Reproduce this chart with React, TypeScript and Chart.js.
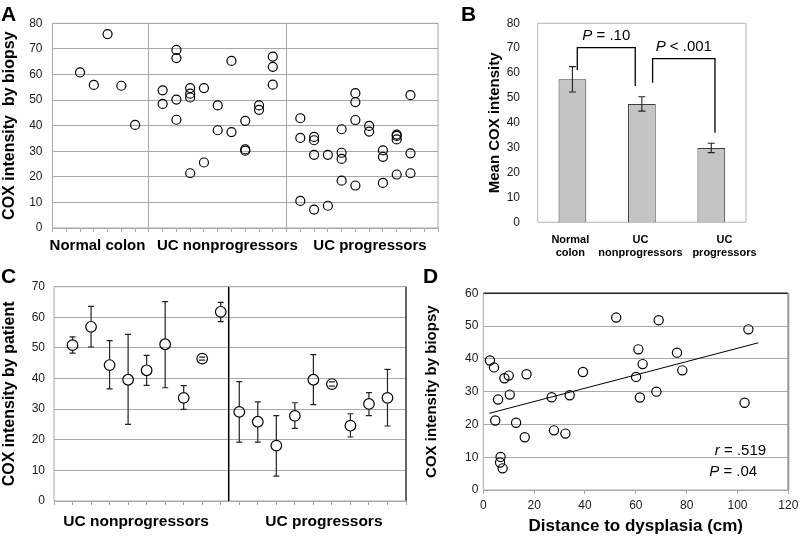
import React, { useEffect, useRef } from 'react';
import { Chart, registerables } from 'chart.js';

Chart.register(...registerables);

const FONT = "'Liberation Sans', Arial, sans-serif";
Chart.defaults.font.family = FONT;

// ---------- Panel A : COX intensity by biopsy ----------
const groupNamesA = ['Normal colon', 'UC nonprogressors', 'UC progressors'];
const groupCentersA = [3.27, 12.7, 23.06];
const groupDividersA = [7, 17];
const normalX = [2, 3, 4, 5, 6];
const normalY = [60.8, 55.9, 75.8, 55.6, 40.3];
const nonprogX = [8, 8, 9, 9, 9, 9, 10, 10, 10, 10, 11, 11, 12, 12, 13, 13, 14, 14, 14, 15, 15, 16, 16, 16];
const nonprogY = [53.8, 48.5, 69.6, 66.4, 50.2, 42.3, 54.7, 52.5, 51.0, 21.4, 54.7, 25.6, 47.9, 38.2, 65.3, 37.5, 41.9, 30.7, 30.2, 47.9, 46.2, 67.0, 63.0, 56.0];
const progX = [18, 18, 18, 19, 19, 19, 19, 20, 20, 21, 21, 21, 21, 22, 22, 22, 22, 23, 23, 24, 24, 24, 25, 25, 25, 25, 26, 26, 26];
const progY = [42.9, 35.2, 10.6, 35.6, 34.3, 28.6, 7.2, 28.6, 8.7, 38.6, 29.4, 27.0, 18.5, 52.7, 49.2, 42.2, 16.6, 39.9, 37.7, 30.3, 27.8, 17.6, 36.5, 36.0, 34.6, 20.9, 51.9, 29.2, 21.4];

// ---------- Panel B : Mean COX intensity ----------
const meanLabels = [['Normal', 'colon'], ['UC', 'nonprogressors'], ['UC', 'progressors']];
const meanLabelCenters = [-0.03, 0.98, 2.19];
const meanValues = [57.5, 47.6, 29.9];
const meanErrors = [5.1, 2.9, 1.9];
const bracketStartX = [0.07, 1.155];
const bracketEndX = [0.905, 2.053];
const bracketTopY = [70.2, 65.8];
const bracketStartY = [61.2, 56.1];
const bracketEndY = [54.8, 36.0];
const bracketItalic = ['P', 'P'];
const bracketRest = [' = .10', ' < .001'];

// ---------- Panel C : COX intensity by patient ----------
const groupNamesC = ['UC nonprogressors', 'UC progressors'];
const groupCentersC = [4.43, 14.57];
const groupDividerC = 9.43;
const patientX = [1, 2, 3, 4, 5, 6, 7, 8, 9, 10, 11, 12, 13, 14, 15, 16, 17, 18];
const patientMean = [50.9, 56.9, 44.4, 39.6, 42.7, 51.2, 33.7, 46.5, 61.8, 29.1, 25.9, 18.1, 27.8, 39.6, 38.2, 24.6, 31.7, 33.7];
const patientHigh = [53.6, 63.6, 52.4, 54.4, 47.6, 65.1, 37.7, 47.0, 64.9, 39.0, 32.4, 27.9, 32.1, 47.8, 38.9, 28.5, 35.4, 43.0];
const patientLow = [48.3, 50.3, 36.6, 25.0, 37.8, 37.0, 29.9, 46.0, 58.6, 19.2, 19.2, 8.1, 23.7, 31.5, 37.5, 20.9, 27.9, 24.5];

// ---------- Panel D : distance to dysplasia ----------
const distX = [2.6, 4.2, 4.7, 5.8, 6.8, 6.6, 7.6, 8.3, 10.0, 10.4, 12.9, 16.3, 17.0, 26.9, 27.8, 34.0, 32.3, 39.2, 52.3, 60.1, 61.0, 61.6, 62.7, 68.1, 69.0, 76.2, 78.3, 102.8, 104.3];
const distY = [39.5, 37.4, 21.2, 27.6, 10.1, 8.4, 6.6, 34.1, 34.9, 29.1, 20.5, 16.1, 35.3, 28.3, 18.2, 28.9, 17.2, 36.0, 52.6, 34.5, 42.9, 28.2, 38.4, 30.0, 51.8, 41.9, 36.5, 26.6, 49.0];
const trendX = [2.4, 108.2];
const trendY = [23.4, 44.9];
const statLines = [['r', ' = .519'], ['P', ' = .04']];
const statX = [91.1, 88.9];
const statY = [11.9, 5.6];

const GRID = '#a8a8a8';
const TICK_COLOR = '#1a1a1a';

const pts = (xs: number[], ys: number[]) => xs.map((x, i) => ({ x, y: ys[i] }));

const hollow = (r: number) => ({
  pointRadius: r,
  pointHoverRadius: r,
  pointBorderWidth: 1.2,
  borderColor: '#000',
  backgroundColor: 'rgba(0,0,0,0)',
  pointBorderColor: '#000',
  pointBackgroundColor: 'rgba(0,0,0,0)',
  showLine: false,
});

type Side = { color: string; width: number } | undefined;
const framePlugin = (sides: { top?: Side; right?: Side; bottom?: Side; left?: Side }) => ({
  id: 'frame',
  beforeDatasetsDraw(chart: any) {
    const { ctx, chartArea: a } = chart;
    ctx.save();
    const seg = (s: Side, x1: number, y1: number, x2: number, y2: number) => {
      if (!s) return;
      ctx.strokeStyle = s.color;
      ctx.lineWidth = s.width;
      ctx.beginPath();
      ctx.moveTo(x1, y1);
      ctx.lineTo(x2, y2);
      ctx.stroke();
    };
    seg(sides.top, a.left, a.top, a.right, a.top);
    seg(sides.right, a.right, a.top, a.right, a.bottom);
    seg(sides.bottom, a.left, a.bottom, a.right, a.bottom);
    seg(sides.left, a.left, a.top, a.left, a.bottom);
    ctx.restore();
  },
});

const groupLabelPlugin = (names: string[], centers: number[], offset: number, size: number) => ({
  id: 'groupLabels',
  afterDraw(chart: any) {
    const { ctx, chartArea, scales } = chart;
    ctx.save();
    ctx.font = `bold ${size}px ${FONT}`;
    ctx.fillStyle = '#000';
    ctx.textAlign = 'center';
    ctx.textBaseline = 'middle';
    names.forEach((n, i) => {
      ctx.fillText(n, scales.x.getPixelForValue(centers[i]), chartArea.bottom + offset);
    });
    ctx.restore();
  },
});

const drawMixed = (ctx: any, italic: string, rest: string, x: number, y: number, size: number, align: 'left' | 'center') => {
  ctx.font = `italic ${size}px ${FONT}`;
  const w1 = ctx.measureText(italic).width;
  ctx.font = `${size}px ${FONT}`;
  const w2 = ctx.measureText(rest).width;
  const start = align === 'center' ? x - (w1 + w2) / 2 : x;
  ctx.textAlign = 'left';
  ctx.textBaseline = 'middle';
  ctx.font = `italic ${size}px ${FONT}`;
  ctx.fillText(italic, start, y);
  ctx.font = `${size}px ${FONT}`;
  ctx.fillText(rest, start + w1, y);
};

const makeChartA = (canvas: HTMLCanvasElement) =>
  new Chart(canvas, {
    type: 'scatter',
    data: {
      datasets: [
        { data: pts(normalX, normalY), ...hollow(4.5) },
        { data: pts(nonprogX, nonprogY), ...hollow(4.5) },
        { data: pts(progX, progY), ...hollow(4.5) },
      ],
    },
    options: {
      animation: false,
      responsive: false,
      events: [],
      layout: { padding: { left: 0, top: 23.3, right: 362, bottom: 269 } },
      plugins: { legend: { display: false }, tooltip: { enabled: false } },
      scales: {
        x: {
          type: 'linear',
          min: 0,
          max: 28,
          ticks: { stepSize: 1, display: false, autoSkip: false },
          grid: {
            drawOnChartArea: true,
            drawTicks: true,
            tickLength: 4,
            tickColor: GRID,
            color: (c: any) => (groupDividersA.includes(c.tick?.value) ? GRID : 'rgba(0,0,0,0)'),
          },
          border: { display: false },
          afterFit: (s: any) => {
            s.height = 40;
            s.paddingLeft = 0;
            s.paddingRight = 0;
          },
        },
        y: {
          min: 0,
          max: 80,
          ticks: { stepSize: 10, padding: 10, color: TICK_COLOR, font: { size: 12 } },
          grid: { color: GRID, drawTicks: false },
          border: { display: false },
          title: {
            display: true,
            text: 'COX intensity  by biopsy',
            font: { size: 16, weight: 'bold' },
            color: '#000',
            padding: 0,
          },
          afterFit: (s: any) => {
            s.width = 52.5;
          },
        },
      },
    },
    plugins: [
      framePlugin({
        top: { color: GRID, width: 1 },
        right: { color: GRID, width: 1 },
        bottom: { color: GRID, width: 1 },
        left: { color: GRID, width: 1 },
      }),
      groupLabelPlugin(groupNamesA, groupCentersA, 18, 15),
    ],
  } as any);

const makeChartB = (canvas: HTMLCanvasElement) =>
  new Chart(canvas, {
    type: 'bar',
    data: {
      labels: meanLabels,
      datasets: [
        {
          data: meanValues,
          backgroundColor: '#c4c4c4',
          borderColor: '#3c3c3c',
          borderWidth: 1,
          barPercentage: 0.4,
          categoryPercentage: 1,
        },
      ],
    },
    options: {
      animation: false,
      responsive: false,
      events: [],
      layout: { padding: { left: 486, top: 23.3, right: 54, bottom: 269.7 } },
      plugins: { legend: { display: false }, tooltip: { enabled: false } },
      scales: {
        x: {
          ticks: { display: false },
          grid: { display: false },
          border: { display: false },
          afterFit: (s: any) => {
            s.height = 45;
            s.paddingLeft = 0;
            s.paddingRight = 0;
          },
        },
        y: {
          min: 0,
          max: 80,
          ticks: { stepSize: 10, padding: 9.7, color: TICK_COLOR, font: { size: 12 } },
          grid: { display: false },
          border: { display: false },
          title: {
            display: true,
            text: 'Mean COX intensity',
            font: { size: 15, weight: 'bold' },
            color: '#000',
            padding: 0,
          },
          afterFit: (s: any) => {
            s.width = 51.7;
          },
        },
      },
    },
    plugins: [
      framePlugin({
        top: { color: '#b4b4b4', width: 1 },
        right: { color: '#b4b4b4', width: 1 },
        bottom: { color: '#b4b4b4', width: 1 },
        left: { color: '#b4b4b4', width: 1 },
      }),
      {
        id: 'catLabels',
        afterDraw(chart: any) {
          const { ctx, scales, chartArea } = chart;
          ctx.save();
          ctx.font = `bold 11px ${FONT}`;
          ctx.fillStyle = '#000';
          ctx.textAlign = 'center';
          ctx.textBaseline = 'middle';
          meanLabels.forEach((lines, i) => {
            const px = scales.x.getPixelForValue(meanLabelCenters[i]);
            lines.forEach((t, j) => ctx.fillText(t, px, chartArea.bottom + 17.7 + j * 13.2));
          });
          ctx.restore();
        },
      },
      {
        id: 'barErrors',
        afterDatasetsDraw(chart: any) {
          const { ctx, scales } = chart;
          ctx.save();
          ctx.strokeStyle = '#222';
          ctx.lineWidth = 1.1;
          meanValues.forEach((v, i) => {
            const px = scales.x.getPixelForValue(i);
            const t = scales.y.getPixelForValue(v + meanErrors[i]);
            const b = scales.y.getPixelForValue(v - meanErrors[i]);
            ctx.beginPath();
            ctx.moveTo(px, t);
            ctx.lineTo(px, b);
            ctx.moveTo(px - 3.5, t);
            ctx.lineTo(px + 3.5, t);
            ctx.moveTo(px - 3.5, b);
            ctx.lineTo(px + 3.5, b);
            ctx.stroke();
          });
          // significance brackets
          ctx.strokeStyle = '#000';
          ctx.lineWidth = 1.3;
          ctx.fillStyle = '#000';
          bracketStartX.forEach((sx, i) => {
            const x1 = scales.x.getPixelForValue(sx);
            const x2 = scales.x.getPixelForValue(bracketEndX[i]);
            const yt = scales.y.getPixelForValue(bracketTopY[i]);
            ctx.beginPath();
            ctx.moveTo(x1, scales.y.getPixelForValue(bracketStartY[i]));
            ctx.lineTo(x1, yt);
            ctx.lineTo(x2, yt);
            ctx.lineTo(x2, scales.y.getPixelForValue(bracketEndY[i]));
            ctx.stroke();
            drawMixed(ctx, bracketItalic[i], bracketRest[i], (x1 + x2) / 2, yt - 12, 15, 'center');
          });
          ctx.restore();
        },
      },
    ],
  } as any);

const makeChartC = (canvas: HTMLCanvasElement) =>
  new Chart(canvas, {
    type: 'scatter',
    data: {
      datasets: [
        { data: pts(patientX, patientMean), ...hollow(5.3) },
        {
          data: [
            { x: groupDividerC, y: 0 },
            { x: groupDividerC, y: 70 },
          ],
          showLine: true,
          borderColor: '#000',
          borderWidth: 1.5,
          pointRadius: 0,
          pointHoverRadius: 0,
        },
      ],
    },
    options: {
      animation: false,
      responsive: false,
      events: [],
      layout: { padding: { left: 0, top: 286.7, right: 394, bottom: 6 } },
      plugins: { legend: { display: false }, tooltip: { enabled: false } },
      scales: {
        x: {
          type: 'linear',
          min: 0,
          max: 19,
          ticks: { stepSize: 1, display: false, autoSkip: false },
          grid: { drawOnChartArea: false, drawTicks: true, tickLength: 4, tickColor: GRID },
          border: { display: false },
          afterFit: (s: any) => {
            s.height = 30;
            s.paddingLeft = 0;
            s.paddingRight = 0;
          },
        },
        y: {
          min: 0,
          max: 70,
          ticks: { stepSize: 10, padding: 9, color: TICK_COLOR, font: { size: 12 } },
          grid: { color: GRID, drawTicks: false },
          border: { display: false },
          title: {
            display: true,
            text: 'COX intensity by patient',
            font: { size: 16, weight: 'bold' },
            color: '#000',
            padding: 0,
          },
          afterFit: (s: any) => {
            s.width = 54;
          },
        },
      },
    },
    plugins: [
      framePlugin({
        top: { color: GRID, width: 1 },
        right: { color: '#333', width: 1.5 },
        bottom: { color: GRID, width: 1 },
        left: { color: GRID, width: 1 },
      }),
      {
        id: 'patientErrors',
        afterDatasetsDraw(chart: any) {
          const { ctx, scales } = chart;
          const r = 5.3;
          ctx.save();
          ctx.strokeStyle = '#222';
          ctx.lineWidth = 1.2;
          patientX.forEach((v, i) => {
            const px = scales.x.getPixelForValue(v);
            const c = scales.y.getPixelForValue(patientMean[i]);
            const t = scales.y.getPixelForValue(patientHigh[i]);
            const b = scales.y.getPixelForValue(patientLow[i]);
            ctx.beginPath();
            if (t < c - r) {
              ctx.moveTo(px, t);
              ctx.lineTo(px, c - r);
            }
            if (b > c + r) {
              ctx.moveTo(px, c + r);
              ctx.lineTo(px, b);
            }
            ctx.moveTo(px - 3, t);
            ctx.lineTo(px + 3, t);
            ctx.moveTo(px - 3, b);
            ctx.lineTo(px + 3, b);
            ctx.stroke();
          });
          ctx.restore();
        },
      },
      groupLabelPlugin(groupNamesC, groupCentersC, 20.7, 15.5),
    ],
  } as any);

const makeChartD = (canvas: HTMLCanvasElement) =>
  new Chart(canvas, {
    type: 'scatter',
    data: {
      datasets: [
        { data: pts(distX, distY), ...hollow(4.6) },
        {
          data: pts(trendX, trendY),
          showLine: true,
          borderColor: '#000',
          borderWidth: 1,
          pointRadius: 0,
          pointHoverRadius: 0,
        },
      ],
    },
    options: {
      animation: false,
      responsive: false,
      events: [],
      layout: { padding: { left: 422.7, top: 293.3, right: 11.7, bottom: 0 } },
      plugins: { legend: { display: false }, tooltip: { enabled: false } },
      scales: {
        x: {
          type: 'linear',
          min: 0,
          max: 120,
          ticks: { stepSize: 20, padding: 4.8, color: TICK_COLOR, font: { size: 12 }, maxRotation: 0 },
          grid: { drawOnChartArea: false, drawTicks: true, tickLength: 4, tickColor: GRID },
          border: { display: false },
          title: {
            display: true,
            text: 'Distance to dysplasia (cm)',
            font: { size: 17, weight: 'bold' },
            color: '#000',
            padding: 0,
          },
          afterFit: (s: any) => {
            s.height = 47;
            s.paddingLeft = 0;
            s.paddingRight = 0;
          },
        },
        y: {
          min: 0,
          max: 60,
          ticks: { stepSize: 10, padding: 5, color: TICK_COLOR, font: { size: 12 } },
          grid: { color: GRID, drawTicks: false },
          border: { display: false },
          title: {
            display: true,
            text: 'COX intensity by biopsy',
            font: { size: 15, weight: 'bold' },
            color: '#000',
            padding: 0,
          },
          afterFit: (s: any) => {
            s.width = 60.6;
          },
        },
      },
    },
    plugins: [
      framePlugin({
        top: { color: '#222', width: 1.5 },
        right: { color: '#999', width: 2 },
        bottom: { color: GRID, width: 1 },
        left: { color: GRID, width: 1 },
      }),
      {
        id: 'stats',
        afterDraw(chart: any) {
          const { ctx, scales } = chart;
          ctx.save();
          ctx.fillStyle = '#000';
          statLines.forEach((l, i) => {
            drawMixed(ctx, l[0], l[1], scales.x.getPixelForValue(statX[i]), scales.y.getPixelForValue(statY[i]), 15, 'left');
          });
          ctx.restore();
        },
      },
    ],
  } as any);

function ChartCanvas({ make }: { make: (c: HTMLCanvasElement) => Chart }) {
  const ref = useRef<HTMLCanvasElement>(null);
  useEffect(() => {
    if (!ref.current) return;
    const chart = make(ref.current);
    return () => chart.destroy();
  }, [make]);
  return (
    <canvas
      ref={ref}
      width={800}
      height={537}
      style={{ position: 'absolute', left: 0, top: 0, width: 800, height: 537 }}
    />
  );
}

const letterStyle = (left: number, top: number): React.CSSProperties => ({
  position: 'absolute',
  left,
  top,
  fontFamily: FONT,
  fontWeight: 'bold',
  fontSize: 21,
  lineHeight: '21px',
  color: '#000',
});

export default function App() {
  return (
    <div
      style={{
        position: 'fixed',
        left: 0,
        top: 0,
        width: 800,
        height: 537,
        background: '#fff',
        overflow: 'hidden',
      }}
    >
      <ChartCanvas make={makeChartA} />
      <ChartCanvas make={makeChartB} />
      <ChartCanvas make={makeChartC} />
      <ChartCanvas make={makeChartD} />
      <div style={letterStyle(1, 3)}>A</div>
      <div style={letterStyle(461, 3)}>B</div>
      <div style={letterStyle(1, 265)}>C</div>
      <div style={letterStyle(423, 265)}>D</div>
    </div>
  );
}
